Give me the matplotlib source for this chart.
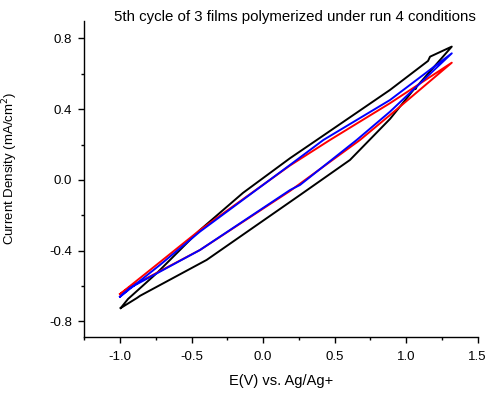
import matplotlib
matplotlib.use("Agg")
import matplotlib.pyplot as plt
from matplotlib.ticker import MultipleLocator

plt.rcParams['font.family'] = ['Liberation Sans', 'DejaVu Sans']

# film 1 (black) - closed loop: upper branch then lower branch back
film1_E = [-0.995, -0.944, -0.743, -0.441, -0.140, 0.189, 0.376, 0.888, 1.154, 1.168, 1.320,
           1.075, 1.068, 1.055, 0.888, 0.608, 0.259, -0.394, -0.860, -0.881, -0.995]
film1_J = [-0.724, -0.673, -0.527, -0.283, -0.073, 0.123, 0.226, 0.509, 0.673, 0.697, 0.754,
           0.528, 0.515, 0.512, 0.345, 0.113, -0.085, -0.452, -0.655, -0.667, -0.724]

# film 2 (red)
film2_E = [-1.0, -0.72, -0.441, 0.189, 0.468, 0.888, 1.320,
           0.888, 0.678, 0.189, -0.441, -0.93, -1.0]
film2_J = [-0.645, -0.464, -0.283, 0.082, 0.226, 0.434, 0.663,
           0.367, 0.226, -0.062, -0.396, -0.605, -0.645]

# film 3 (blue)
film3_E = [-1.0, -0.72, -0.441, 0.189, 0.422, 0.888, 1.320,
           0.888, 0.655, 0.259, 0.189, -0.441, -0.93, -1.0]
film3_J = [-0.66, -0.48, -0.292, 0.085, 0.226, 0.452, 0.716,
           0.386, 0.226, -0.028, -0.057, -0.396, -0.61, -0.66]

fig = plt.figure(figsize=(4.93, 3.98), dpi=100)
ax = fig.add_axes([0.1709, 0.1523, 0.7977, 0.7955])

ax.plot(film1_E, film1_J, color='black', lw=1.4)
ax.plot(film2_E, film2_J, color='#ff0000', lw=1.4)
ax.plot(film3_E, film3_J, color='#0000ff', lw=1.4)

ax.set_xlim(-1.25, 1.5)
ax.set_ylim(-0.89, 0.9)
ax.xaxis.set_major_locator(MultipleLocator(0.5))
ax.xaxis.set_minor_locator(MultipleLocator(0.25))
ax.yaxis.set_major_locator(MultipleLocator(0.4))
ax.yaxis.set_minor_locator(MultipleLocator(0.2))
ax.xaxis.set_major_formatter(plt.FormatStrFormatter('%.1f'))
ax.yaxis.set_major_formatter(plt.FormatStrFormatter('%.1f'))

for side in ['top', 'right']:
    ax.spines[side].set_visible(False)
for side in ['left', 'bottom']:
    ax.spines[side].set_linewidth(1.0)

ax.tick_params(which='major', direction='out', length=4, width=1.0, labelsize=9.5)
ax.tick_params(which='minor', direction='out', length=2.5, width=1.0)
ax.tick_params(axis='x', which='major', pad=6)
ax.tick_params(axis='y', which='major', pad=5)

ax.set_xlabel('E(V) vs. Ag/Ag+', fontsize=10.5, labelpad=8)
ax.set_ylabel('Current Density (mA/cm$^2$)', fontsize=9.5)
ax.yaxis.set_label_coords(-0.163, 0.535)

fig.text(0.598, 0.958, '5th cycle of 3 films polymerized under run 4 conditions',
         ha='center', va='center', fontsize=10.8)

fig.savefig('out.png', dpi=100)
